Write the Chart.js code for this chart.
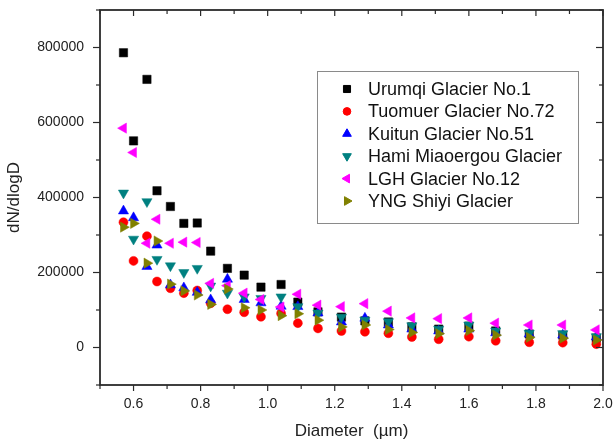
<!DOCTYPE html>
<html>
<head>
<meta charset="utf-8">
<script src="https://cdn.jsdelivr.net/npm/chart.js@4.4.0/dist/chart.umd.min.js"></script>
<style>
html,body{margin:0;padding:0;background:#fff}
#wrap{width:615px;height:442px}
</style>
</head>
<body>
<div id="wrap"><canvas id="c" width="615" height="442"></canvas></div>
<script>
// particle size channels (µm)
const diameters=[0.57,0.60,0.64,0.67,0.71,0.75,0.79,0.83,0.88,0.93,0.98,1.04,1.09,1.15,1.22,1.29,1.36,1.43,1.51,1.60,1.68,1.78,1.88,1.98]

const urumqi=[786000,551000,715000,418000,376000,331000,332000,257000,211000,193000,161000,168000,121000,95000,81000,71000,68000,55000,49000,57000,44000,36000,33000,25000]
const tuomuer=[334000,231000,297000,176000,158000,145000,152000,118000,102000,94000,82000,91000,65000,51000,44000,42000,38000,28000,22000,29000,18000,14000,13000,9000]
const kuitun=[364000,346000,216000,273000,167000,159000,147000,127000,182000,128000,119000,110000,109000,92000,68000,78000,60000,49000,44000,49000,39000,36000,33000,28000]
const hami=[412000,289000,389000,235000,218000,200000,211000,164000,145000,135000,131000,135000,109000,92000,81000,73000,69000,58000,49000,60000,44000,38000,37000,29000]
const lgh=[585000,520000,278000,342000,278000,281000,280000,171000,165000,145000,128000,108000,142000,113000,109000,117000,97000,79000,77000,79000,65000,60000,60000,47000]
const yng=[321000,331000,225000,284000,169000,151000,140000,115000,156000,106000,100000,85000,90000,73000,55000,60000,48000,40000,37000,45000,33000,27000,25000,20000]

const labels=["Urumqi Glacier No.1","Tuomuer Glacier No.72","Kuitun Glacier No.51","Hami Miaoergou Glacier","LGH Glacier No.12","YNG Shiyi Glacier"]

function pts(arr){
    return arr.map((v,i)=>({x:diameters[i],y:v}))
}

function ds(label,arr,color,style,rot,r,order){
    return {
        label:label,
        data:pts(arr),
        backgroundColor:color,
        borderColor:color,
        borderWidth:0.5,
        pointStyle:style,
        rotation:rot,
        pointRadius:r,
        pointHoverRadius:r,
        order:order
    }
}

// frame + ticks on all four sides
const frame={
    id:'frame',
    afterDraw(chart){
        const ctx=chart.ctx
        const a=chart.chartArea
        const x=chart.scales.x, y=chart.scales.y
        ctx.save()
        ctx.strokeStyle='#2b2b2b'
        ctx.lineWidth=1.2
        function line(x1,y1,x2,y2){ctx.beginPath();ctx.moveTo(x1,y1);ctx.lineTo(x2,y2);ctx.stroke()}
        x.ticks.forEach(t=>{
            const px=x.getPixelForValue(t.value)
            const len=t.label!==''?6:4
            line(px,a.bottom,px,a.bottom+len)
            line(px,a.top,px,a.top+len)
        })
        y.ticks.forEach(t=>{
            const py=y.getPixelForValue(t.value)
            const len=t.label!==''?7:4
            line(a.left,py,a.left-len,py)
            line(a.right,py,a.right-len,py)
        })
        ctx.lineWidth=1.8
        ctx.strokeRect(a.left,a.top,a.right-a.left,a.bottom-a.top)
        ctx.restore()
    }
}

// legend box inside the plot
const legendBox={
    id:'legendBox',
    afterDraw(chart){
        const ctx=chart.ctx
        const a=chart.chartArea
        const bx=a.left+217, by=a.top+61, bw=261, bh=152
        ctx.save()
        ctx.fillStyle='#fff'
        ctx.fillRect(bx,by,bw,bh)
        ctx.strokeStyle='#8a8a8a'
        ctx.lineWidth=1
        ctx.strokeRect(bx+0.5,by+0.5,bw,bh)
        ctx.font='18px "Liberation Sans", Arial, sans-serif'
        ctx.textBaseline='middle'
        chart.data.datasets.forEach((d,i)=>{
            const cy=by+18+i*22.4
            ctx.fillStyle=d.backgroundColor
            ctx.strokeStyle=d.borderColor
            Chart.helpers.drawPoint(ctx,{pointStyle:d.pointStyle,rotation:d.rotation,radius:d.pointRadius*0.85,borderWidth:0.5},bx+30,cy)
            ctx.fillStyle='#111'
            ctx.fillText(d.label,bx+51,cy+1)
        })
        ctx.restore()
    }
}

new Chart(document.getElementById('c').getContext('2d'),{
    type:'scatter',
    data:{
        datasets:[
            ds(labels[0],urumqi,'#000000','rect',0,5.9,6),
            ds(labels[1],tuomuer,'#ff0000','circle',0,4.5,5),
            ds(labels[2],kuitun,'#0000ff','triangle',0,5.9,4),
            ds(labels[3],hami,'#008080','triangle',180,5.9,3),
            ds(labels[4],lgh,'#ff00ff','triangle',270,5.9,2),
            ds(labels[5],yng,'#808000','triangle',90,5.9,1)
        ]
    },
    options:{
        responsive:false,
        animation:false,
        layout:{padding:{top:10,right:12,left:0,bottom:0}},
        plugins:{legend:{display:false},tooltip:{enabled:false}},
        scales:{
            x:{
                type:'linear',
                min:0.5,max:2.0,
                afterFit:s=>{s.height=57;s.paddingLeft=0;s.paddingRight=0},
                grid:{display:false,drawTicks:false},
                border:{display:false},
                ticks:{
                    stepSize:0.1,autoSkip:false,maxRotation:0,padding:11,
                    color:'#222',
                    font:{family:'"Liberation Sans", Arial, sans-serif',size:14},
                    callback:v=>{const k=Math.round(v*10);return (k%2===0&&k>=6)?(k/10).toFixed(1):''}
                },
                title:{display:true,text:'Diameter  (µm)',color:'#222',padding:{top:0,bottom:0},
                    font:{family:'"Liberation Sans", Arial, sans-serif',size:17}}
            },
            y:{
                min:-100000,max:900000,
                afterFit:s=>{s.width=100;s.paddingTop=0;s.paddingBottom=0},
                grid:{display:false,drawTicks:false},
                border:{display:false},
                ticks:{
                    stepSize:100000,autoSkip:false,padding:16,
                    color:'#222',
                    font:{family:'"Liberation Sans", Arial, sans-serif',size:14},
                    callback:v=>{const k=Math.round(v/100000);return (k%2===0&&k>=0)?String(k*100000):''}
                },
                title:{display:true,text:'dN/dlogD',color:'#222',padding:{top:4,bottom:0},
                    font:{family:'"Liberation Sans", Arial, sans-serif',size:17}}
            }
        }
    },
    plugins:[frame,legendBox]
})
</script>
</body>
</html>
